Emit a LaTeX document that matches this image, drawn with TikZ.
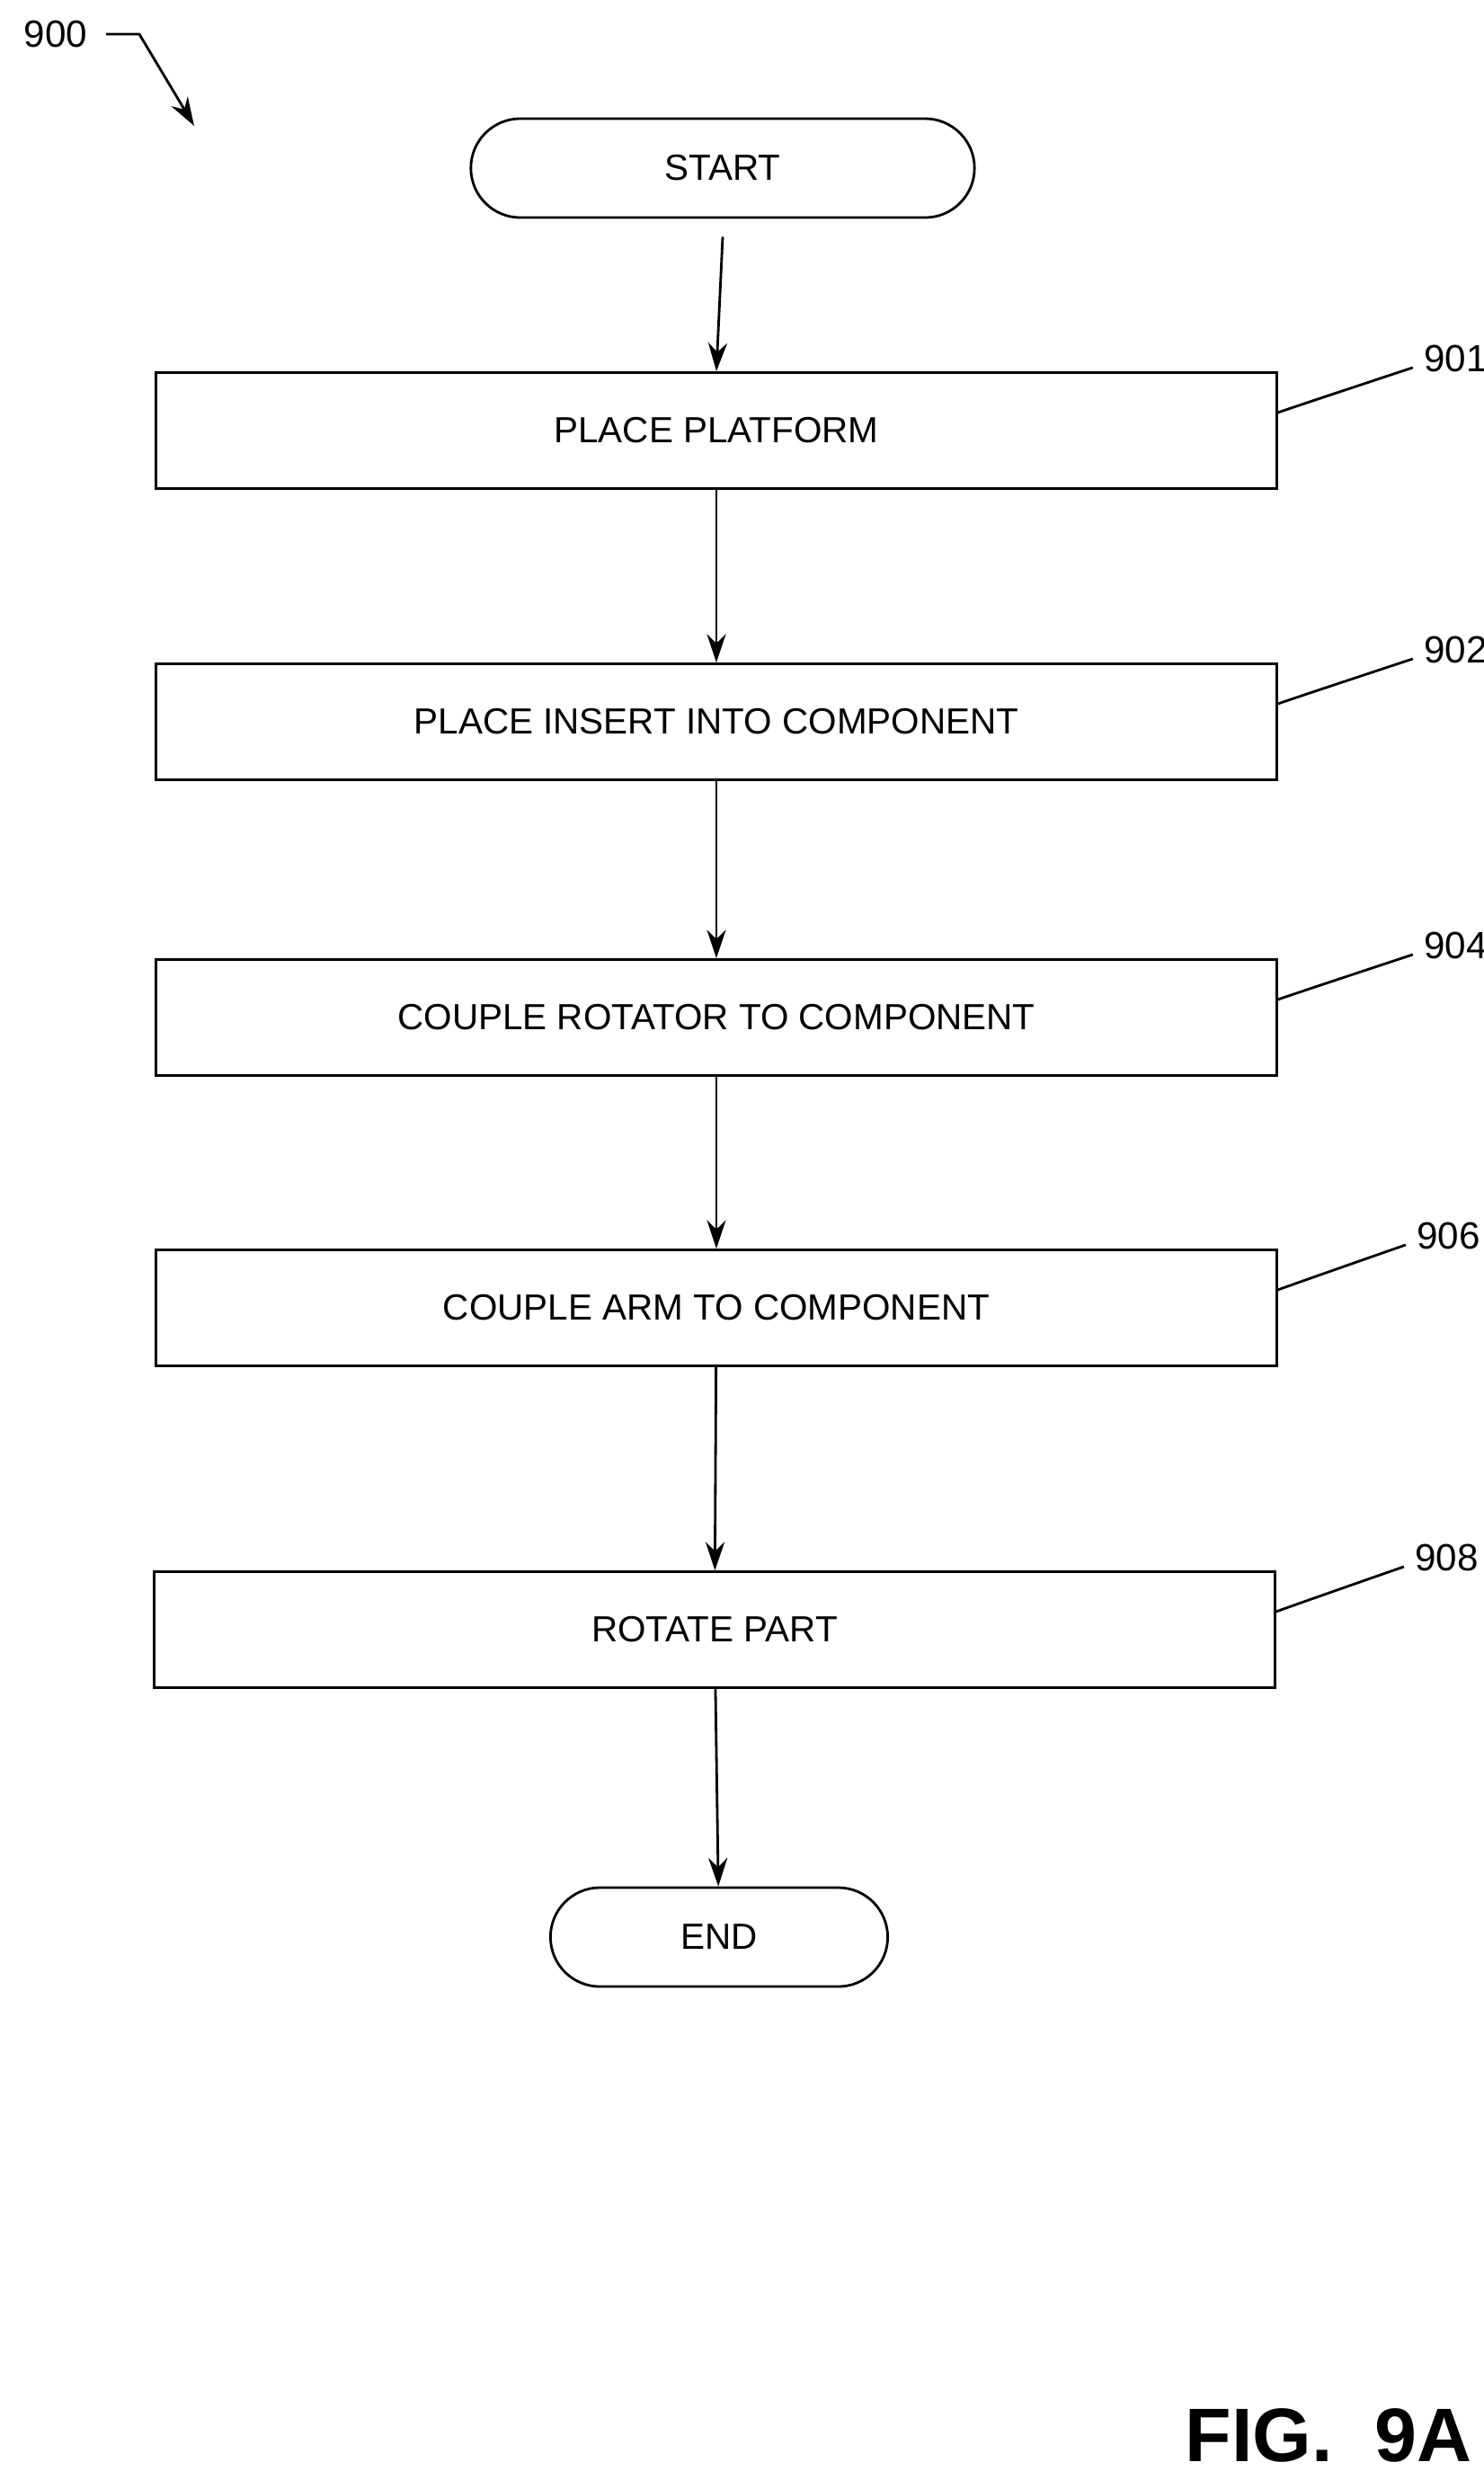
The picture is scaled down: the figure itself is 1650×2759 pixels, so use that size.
\documentclass[tikz,border=0pt]{standalone}
\usepackage{fontspec}
\setmainfont{Liberation Sans}
\usetikzlibrary{arrows.meta}
\begin{document}
\begin{tikzpicture}[x=0.01cm,y=-0.01cm,
  box/.style={draw,line width=0.8pt,minimum width=12.46cm,minimum height=1.29cm,font=\fontsize{11.5}{13}\selectfont,inner sep=0},
  term/.style={draw,line width=0.8pt,rounded corners=0.55cm,minimum height=1.1cm,font=\fontsize{11.5}{13}\selectfont,inner sep=0},
  arr/.style={line width=0.8pt,-{Stealth[length=9pt,width=6pt]}},
  lbl/.style={font=\fontsize{12}{14}\selectfont},
  lead/.style={line width=0.8pt}]
\useasboundingbox (0,0) rectangle (1650,2759);
\node[term,minimum width=5.6cm] (start) at (804,187) {START};
\node[box] (b1) at (797,479) {PLACE PLATFORM};
\node[box] (b2) at (797,803) {PLACE INSERT INTO COMPONENT};
\node[box] (b4) at (797,1132) {COUPLE ROTATOR TO COMPONENT};
\node[box] (b6) at (797,1455) {COUPLE ARM TO COMPONENT};
\node[box] (b8) at (795,1813) {ROTATE PART};
\node[term,minimum width=3.75cm] (end) at (800,2155) {END};
\draw[arr] (start.south) ++(0,20) coordinate (s0) -- (b1.north);
\draw[arr] (b1) -- (b2);
\draw[arr] (b2) -- (b4);
\draw[arr] (b4) -- (b6);
\draw[arr] (b6) -- (b8);
\draw[arr] (b8) -- (end);
\foreach \b/\t/\dx in {b1/901/0,b2/902/0,b4/904/0,b6/906/-8,b8/908/-8}{
  \node[lbl,anchor=west] (l\t) at ([xshift=\dx*0.01cm+1.5cm,yshift=0.8cm]\b.east) {\t};
  \draw[lead] ([yshift=0.2cm]\b.east) .. controls +(0.2,-0.5) and +(-0.3,0) .. ([yshift=-0.1cm]l\t.west);
}
\node[lbl] (n900) at (62,38) {900};
\coordinate (a0) at (118,38);
\coordinate (a1) at (155,38);
\coordinate (a2) at (216,140);
\draw[line width=0.8pt,-{Stealth[length=9pt,width=6pt]}] (a0) -- (a1) -- (a2);
\node[font=\bfseries\fontsize{24}{28}\selectfont] (fig) at (1478,2709) {FIG.\ \ 9A};
\end{tikzpicture}
\end{document}
